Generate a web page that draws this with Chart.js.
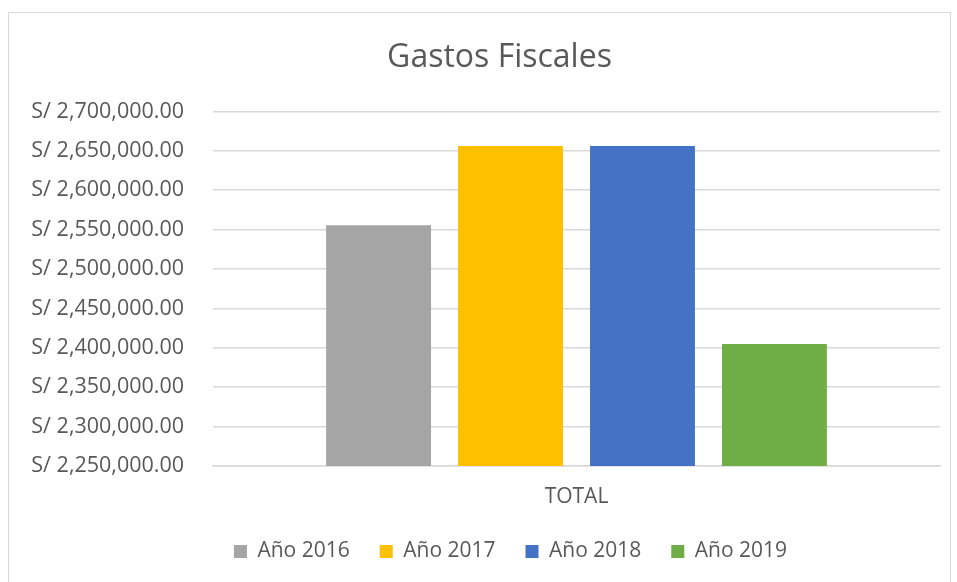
<!DOCTYPE html>
<html>
<head>
<meta charset="utf-8">
<script src="https://cdn.jsdelivr.net/npm/chart.js@4.4.0/dist/chart.umd.min.js"></script>
<style>
  body { margin: 0; background: #fff; }
  #frame {
    position: absolute;
    left: 8px;
    top: 12px;
    width: 941px;
    height: 575px;
    border: 1px solid #d9d9d9;
    background: #fff;
  }
</style>
</head>
<body>
<div id="frame"><canvas id="gastosChart" width="941" height="575"></canvas></div>
<script>
const categories = ["TOTAL"];
const years = ["Año 2016", "Año 2017", "Año 2018", "Año 2019"];
const totals = [2555500, 2656000, 2656000, 2404800];
const colors = ["#a5a5a5", "#ffc000", "#4472c4", "#70ad47"];
const yMin = 2250000;
const yMax = 2700000;
const yStep = 50000;

const textColor = "#595959";
const gridColor = "#d9d9d9";
const fontFamily = "'Open Sans', sans-serif";

const soles = (value) =>
  "S/ " +
  Number(value).toLocaleString("en-US", {
    minimumFractionDigits: 2,
    maximumFractionDigits: 2,
  });

// title and legend sit a little right of the canvas centre
const shiftBlocks = {
  id: "shiftBlocks",
  afterLayout(chart) {
    chart.titleBlock.left += 25;
    chart.titleBlock.right += 25;
    chart.legend.left += 36;
    chart.legend.right += 36;
  },
};

let datasets = [];
let i = 0;
for (const year of years) {
  datasets.push({
    label: year,
    data: [totals[i]],
    backgroundColor: colors[i],
    borderWidth: 0,
    categoryPercentage: 0.726,
    barPercentage: 0.795,
  });
  i++;
}

new Chart(document.getElementById("gastosChart"), {
  type: "bar",
  data: {
    labels: categories,
    datasets,
  },
  plugins: [shiftBlocks],
  options: {
    responsive: false,
    animation: false,
    layout: {
      padding: { left: 0, right: 10, top: 0, bottom: 16 },
    },
    plugins: {
      title: {
        display: true,
        text: "Gastos Fiscales",
        color: textColor,
        font: { family: fontFamily, size: 32, weight: "normal" },
        padding: { top: 26, bottom: 34 },
      },
      legend: {
        position: "bottom",
        labels: {
          color: textColor,
          font: { family: fontFamily, size: 21 },
          boxWidth: 13,
          boxHeight: 13,
          padding: 30,
        },
      },
      tooltip: { enabled: false },
    },
    scales: {
      x: {
        grid: { display: false, drawTicks: false },
        border: { color: gridColor, width: 1.5 },
        ticks: {
          color: textColor,
          font: { family: fontFamily, size: 21 },
          padding: 18,
        },
        afterFit: (axis) => {
          axis.height = 45;
        },
      },
      y: {
        min: yMin,
        max: yMax,
        grid: { color: gridColor, lineWidth: 1.5, drawTicks: false },
        border: { display: false },
        ticks: {
          stepSize: yStep,
          color: textColor,
          font: { family: fontFamily, size: 21.5 },
          padding: 29,
          callback: (value) => soles(value),
        },
        afterFit: (axis) => {
          axis.width = 204;
        },
      },
    },
  },
});
</script>
</body>
</html>
